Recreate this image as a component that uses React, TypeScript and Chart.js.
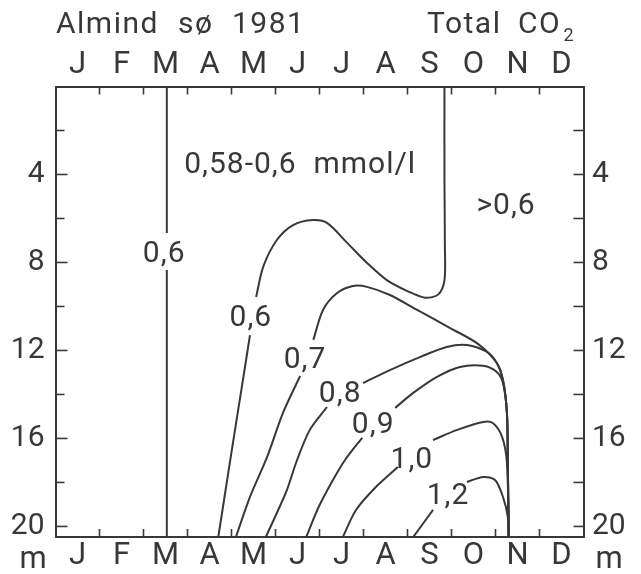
import React, { useEffect, useRef } from 'react';
import { Chart, registerables } from 'chart.js';

Chart.register(...registerables);

// ---- data (month index 0..12 on x, depth in m on y) ----
const MONTHS = ['J', 'F', 'M', 'A', 'M', 'J', 'J', 'A', 'S', 'O', 'N', 'D'];
const MONTH_BOUNDARIES = [1, 2, 3, 4, 5, 6, 7, 8, 9, 10, 11];
const DEPTH_LABELS = [4, 8, 12, 16, 20];
const DEPTH_TICKS = [2, 4, 6, 8, 10, 12, 14, 16, 18, 20];
const DEPTH_MAX = 20.48;

// vertical 0.6 isopleth in March (split around its label)
const ISO_06_MARCH_TOP = [[2.53, 0], [2.53, 6.66]];
const ISO_06_MARCH_BOTTOM = [[2.53, 8.34], [2.53, DEPTH_MAX]];

// 0.6 isopleth bounding the 0.58-0.6 region
const ISO_06_UPPER = [
  [4.56, 9.57], [4.72, 8.2], [5.03, 6.98], [5.4, 6.3], [5.85, 6.07], [6.17, 6.2],
  [6.63, 7.11], [7.08, 8.02], [7.53, 8.8], [8.0, 9.3], [8.4, 9.6], [8.7, 9.45],
  [8.84, 8.8], [8.85, 7.3], [8.84, 4.25], [8.84, 0],
];
const ISO_06_LOWER = [[4.42, 11.3], [4.26, 13.34], [3.99, 16.75], [3.7, DEPTH_MAX]];

const ISO_07_UPPER = [
  [5.86, 11.52], [6.08, 10.16], [6.4, 9.39], [6.76, 9.07], [7.08, 9.11], [7.6, 9.48],
  [8.22, 10.16], [8.97, 10.98], [9.6, 11.7], [10.03, 12.57], [10.17, 13.34],
  [10.26, 14.84], [10.28, 17.11], [10.3, DEPTH_MAX],
];
const ISO_07_LOWER = [[5.56, 13.16], [5.17, 14.84], [4.81, 16.84], [4.42, 18.66], [4.1, DEPTH_MAX]];

const ISO_08_UPPER = [
  [6.99, 13.48], [7.6, 12.89], [8.28, 12.3], [8.89, 11.84], [9.35, 11.75], [9.81, 12.07],
  [10.03, 12.57], [10.17, 13.34], [10.26, 14.84], [10.28, 17.11], [10.3, DEPTH_MAX],
];
const ISO_08_LOWER = [[6.17, 14.57], [5.78, 15.61], [5.49, 16.98], [5.26, 18.34], [5.01, 19.48], [4.78, DEPTH_MAX]];

const ISO_09_UPPER = [
  [7.72, 14.61], [8.13, 13.93], [8.67, 13.2], [9.19, 12.75], [9.72, 12.7], [10.03, 12.98],
  [10.17, 13.48], [10.26, 14.84], [10.28, 17.11], [10.3, DEPTH_MAX],
];
const ISO_09_LOWER = [[6.97, 15.97], [6.58, 16.98], [6.28, 17.98], [5.97, 19.16], [5.7, DEPTH_MAX]];

const ISO_10_UPPER = [
  [8.58, 16.07], [9.13, 15.61], [9.72, 15.25], [9.94, 15.3], [10.15, 15.93],
  [10.26, 17.11], [10.3, DEPTH_MAX],
];
const ISO_10_LOWER = [[7.78, 17.3], [7.26, 18.25], [6.83, 19.25], [6.53, DEPTH_MAX]];

const ISO_12_UPPER = [
  [9.35, 17.98], [9.72, 17.75], [9.99, 17.89], [10.17, 18.66], [10.28, 19.57], [10.3, DEPTH_MAX],
];
const ISO_12_LOWER = [[8.58, 19.25], [8.13, DEPTH_MAX]];

// isopleth labels: [text, month, depth]
const ISO_LABELS: [string, number, number][] = [
  ['0,6', 2.47, 7.5],
  ['0,6', 4.44, 10.39],
  ['0,7', 5.67, 12.3],
  ['0,8', 6.47, 13.84],
  ['0,9', 7.22, 15.25],
  ['1,0', 8.1, 16.84],
  ['1,2', 8.92, 18.48],
];
const REGION_LABELS: [string, number, number][] = [
  ['0,58-0,6  mmol/l', 5.56, 3.43],
  ['>0,6', 10.24, 5.3],
];

const TITLE_LEFT = ['Almind', 'sø', '1981'];
const TITLE_RIGHT = ['Total', 'CO'];
const TITLE_SUB = '2';
const UNIT = 'm';

// ---- styling ----
const INK = '#383838';
const FONT = 'Roboto';

function lineDs(points: number[][]) {
  return {
    data: points.map(([m, d]) => ({ x: m, y: d })),
    showLine: true,
    borderColor: INK,
    borderWidth: 2,
    pointRadius: 0,
    pointHoverRadius: 0,
    tension: 0.3,
    fill: false,
    xAxisID: 'x',
    yAxisID: 'y',
  };
}

const decorPlugin = {
  id: 'decor',
  afterDraw(chart: any) {
    const { ctx, chartArea: ca, scales } = chart;
    const xs = scales.x;
    const ys = scales.y;
    ctx.save();
    ctx.strokeStyle = INK;
    ctx.lineWidth = 1.6;
    const seg = (x1: number, y1: number, x2: number, y2: number) => {
      ctx.beginPath();
      ctx.moveTo(x1, y1);
      ctx.lineTo(x2, y2);
      ctx.stroke();
    };
    // inward month ticks
    for (const b of MONTH_BOUNDARIES) {
      const px = xs.getPixelForValue(b);
      seg(px, ca.top, px, ca.top + 8);
      seg(px, ca.bottom, px, ca.bottom - 8);
    }
    // inward depth ticks
    for (const d of DEPTH_TICKS) {
      const py = ys.getPixelForValue(d);
      const major = DEPTH_LABELS.includes(d);
      seg(ca.left, py, ca.left + (major ? 12 : 9), py);
      seg(ca.right, py, ca.right - 10, py);
    }

    ctx.fillStyle = INK;
    ctx.textBaseline = 'alphabetic';
    const size = 30;
    const cap = 0.711 * size;
    ctx.font = `${size}px ${FONT}`;
    (ctx as any).letterSpacing = '1px';
    ctx.textAlign = 'center';
    for (const [t, m, d] of [...ISO_LABELS, ...REGION_LABELS]) {
      const px = xs.getPixelForValue(m);
      const py = ys.getPixelForValue(d);
      ctx.fillText(t, px, py + cap / 2);
    }

    // title
    (ctx as any).letterSpacing = '1.5px';
    ctx.textAlign = 'left';
    ctx.font = `30px ${FONT}`;
    const tl = [ca.left + 0.5, ca.left + 122.5, ca.left + 176.5];
    TITLE_LEFT.forEach((w, i) => ctx.fillText(w, tl[i], 33));
    const tr = [ca.left + 371.5, ca.left + 462.5];
    TITLE_RIGHT.forEach((w, i) => ctx.fillText(w, tr[i], 33));
    ctx.font = `18px ${FONT}`;
    ctx.fillText(TITLE_SUB, ca.left + 508, 41);

    // unit labels
    (ctx as any).letterSpacing = '0px';
    ctx.font = `31px ${FONT}`;
    ctx.textAlign = 'center';
    ctx.fillText(UNIT, ca.left - 22.5, 568);
    ctx.fillText(UNIT, ca.right + 25.5, 568);
    ctx.restore();
  },
};

const monthTicks = (scale: any) => {
  scale.ticks = MONTHS.map((_, i) => ({ value: i + 0.5 }));
};
const depthTicks = (scale: any) => {
  scale.ticks = DEPTH_LABELS.map((v) => ({ value: v }));
};

const tickFont = { family: FONT, size: 31 };
const depthFont = { family: FONT, size: 30 };
const gridOff = { display: true, drawOnChartArea: false, drawTicks: false };
const border = { display: true, color: INK, width: 2 };

export default function App() {
  const ref = useRef<HTMLCanvasElement>(null);
  useEffect(() => {
    const datasets = [
      ISO_06_MARCH_TOP, ISO_06_MARCH_BOTTOM,
      ISO_06_UPPER, ISO_06_LOWER,
      ISO_07_UPPER, ISO_07_LOWER,
      ISO_08_UPPER, ISO_08_LOWER,
      ISO_09_UPPER, ISO_09_LOWER,
      ISO_10_UPPER, ISO_10_LOWER,
      ISO_12_UPPER, ISO_12_LOWER,
    ].map(lineDs);
    const chart = new Chart(ref.current as HTMLCanvasElement, {
      type: 'scatter',
      data: { datasets } as any,
      options: {
        responsive: false,
        animation: false,
        events: [],
        layout: { padding: { top: 46, left: 0, right: 0, bottom: 0 } },
        plugins: { legend: { display: false }, tooltip: { enabled: false }, title: { display: false } },
        scales: {
          x: {
            type: 'linear', position: 'bottom', min: 0, max: 12,
            afterBuildTicks: monthTicks,
            afterFit: (s: any) => { s.height = 37; },
            ticks: {
              callback: (v: any) => MONTHS[Math.floor(v)],
              font: tickFont, color: INK, padding: 1, autoSkip: false, maxRotation: 0, minRotation: 0,
            },
            grid: gridOff, border,
          },
          xTop: {
            type: 'linear', position: 'top', min: 0, max: 12,
            afterBuildTicks: monthTicks,
            afterFit: (s: any) => { s.height = 40.5; },
            ticks: {
              callback: (v: any) => MONTHS[Math.floor(v)],
              font: tickFont, color: INK, padding: 3, autoSkip: false, maxRotation: 0, minRotation: 0,
            },
            grid: gridOff, border,
          },
          y: {
            type: 'linear', position: 'left', min: 0, max: DEPTH_MAX, reverse: true,
            afterBuildTicks: depthTicks,
            afterFit: (s: any) => { s.width = 55.5; },
            ticks: { font: depthFont, color: INK, padding: 11, autoSkip: false },
            grid: gridOff, border,
          },
          yRight: {
            type: 'linear', position: 'right', min: 0, max: DEPTH_MAX, reverse: true,
            afterBuildTicks: depthTicks,
            afterFit: (s: any) => { s.width = 57.5; },
            ticks: { font: depthFont, color: INK, padding: 8.5, autoSkip: false },
            grid: gridOff, border,
          },
        },
      } as any,
      plugins: [decorPlugin],
    });
    return () => chart.destroy();
  }, []);
  return (
    <div style={{ position: 'absolute', left: 0, top: 0, width: 641, height: 574, background: '#fff' }}>
      <canvas ref={ref} width={641} height={574} style={{ display: 'block' }} />
    </div>
  );
}
